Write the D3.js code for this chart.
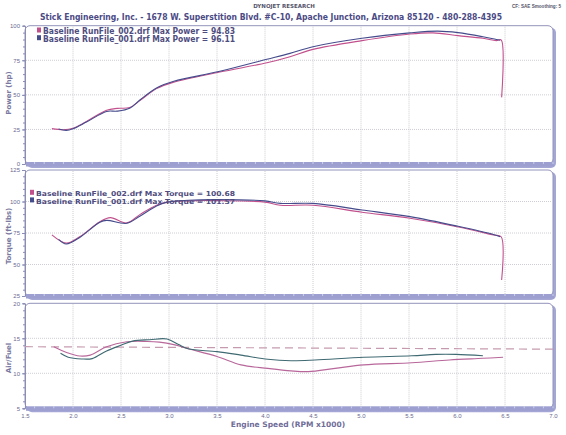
<!DOCTYPE html>
<html>
<head>
<meta charset="utf-8">
<script src="https://cdn.jsdelivr.net/npm/d3@7"></script>
<style>
  body { margin: 0; background: #fff; }
  svg { display: block; font-family: "DejaVu Sans", Verdana, sans-serif; }
  .tick text { fill: #6b6a90; font-size: 6px; }
  .axis path, .axis line { stroke: #8c8cb4; }
</style>
</head>
<body>
<script>
// ----- data -----
var rpmTicks = [1.5, 2.0, 2.5, 3.0, 3.5, 4.0, 4.5, 5.0, 5.5, 6.0, 6.5, 7.0];
var powerTicks = [0, 25, 50, 75, 100];
var torqueTicks = [25, 50, 75, 100, 125];
var afrTicks = [5, 10, 15, 20];

// run 002 (pink) and run 001 (blue), [rpm x1000, value]
var power002 = [[1.78, 25.6], [1.9, 24.8], [2.0, 25.8], [2.14, 30.8], [2.35, 38.8], [2.46, 40.2], [2.59, 40.8],
  [2.70, 46.0], [2.87, 54.5], [3.05, 59.2], [3.53, 66.5], [4.02, 73.2], [4.26, 77.6], [4.5, 82.9],
  [5.01, 89.2], [5.51, 94.0], [5.75, 94.8], [6.01, 92.8], [6.27, 90.9], [6.41, 89.2], [6.46, 89.7], [6.465, 48.2]];
var power001 = [[1.85, 25.3], [1.93, 24.3], [2.0, 25.5], [2.14, 30.3], [2.35, 38.0], [2.46, 38.2], [2.59, 40.3],
  [2.70, 46.5], [2.87, 55.0], [3.05, 59.8], [3.53, 67.0], [4.02, 75.7], [4.26, 80.0], [4.5, 84.8],
  [5.01, 90.9], [5.51, 94.8], [5.8, 96.1], [6.01, 95.0], [6.27, 92.0], [6.41, 90.0], [6.45, 89.5]];

var torque002 = [[1.78, 73.5], [1.93, 67.0], [2.07, 72.0], [2.28, 84.0], [2.39, 87.2], [2.56, 83.0], [2.70, 89.8],
  [2.87, 97.0], [2.98, 99.5], [3.2, 100.5], [3.5, 100.7], [4.0, 99.5], [4.16, 97.0], [4.5, 97.0],
  [5.01, 91.5], [5.51, 86.7], [6.0, 80.0], [6.38, 73.4], [6.46, 72.0], [6.465, 37.7]];
var torque001 = [[1.85, 70.0], [1.93, 66.3], [2.07, 71.5], [2.28, 83.5], [2.35, 85.0], [2.56, 82.7], [2.70, 88.5],
  [2.87, 96.5], [2.98, 99.5], [3.2, 101.0], [3.5, 101.5], [4.0, 100.5], [4.16, 98.5], [4.5, 98.5],
  [5.01, 93.3], [5.51, 88.0], [6.0, 80.5], [6.38, 73.8], [6.45, 72.0]];

var afr002 = [[1.8, 13.8], [1.94, 12.95], [2.07, 12.47], [2.18, 12.6], [2.35, 13.8], [2.56, 14.5], [2.77, 14.55],
  [2.9, 14.45], [3.05, 14.1], [3.19, 13.55], [3.5, 12.4], [3.75, 11.2], [4.03, 10.7], [4.27, 10.35],
  [4.45, 10.24], [4.73, 10.7], [5.03, 11.2], [5.53, 11.5], [5.92, 11.9], [6.27, 12.14], [6.48, 12.3]];
var afr001 = [[1.87, 12.86], [1.95, 12.3], [2.09, 12.05], [2.2, 12.1], [2.35, 13.2], [2.5, 14.0], [2.62, 14.6],
  [2.8, 14.8], [2.98, 14.9], [3.1, 14.1], [3.2, 13.5], [3.5, 13.1], [3.75, 12.6], [4.03, 12.0],
  [4.27, 11.8], [4.52, 11.9], [5.03, 12.3], [5.53, 12.5], [5.78, 12.7], [5.99, 12.7], [6.27, 12.5]];
var afrTarget = [[1.5, 13.8], [7.0, 13.45]];

var powerLegend = ["Baseline RunFile_002.drf Max Power = 94.83", "Baseline RunFile_001.drf Max Power = 96.11"];
var torqueLegend = ["Baseline RunFile_002.drf Max Torque = 100.68", "Baseline RunFile_001.drf Max Torque = 101.57"];

var pink = "#c2508c";
var blue = "#454c8c";
var teal = "#3f6a72";

var w = 566, h = 435;
var svg = d3.select("body").append("svg").attr("width", w).attr("height", h);

var x = d3.scaleLinear().domain([1.5, 7.0]).range([25, 553]);
var minorRpm = d3.range(15, 71).map(function(d) { return d / 10; });

// header
svg.append("text").attr("x", 284).attr("y", 7.5).attr("text-anchor", "middle")
  .style("font-size", "5.5px").style("font-weight", "bold").style("fill", "#55556a")
  .text("DYNOJET RESEARCH");
svg.append("text").attr("x", 512).attr("y", 7.5)
  .style("font-family", "'Liberation Sans', Arial, sans-serif")
  .style("font-size", "4.6px").style("font-weight", "bold").style("fill", "#55556a")
  .text("CF: SAE  Smoothing: 5");
svg.append("text").attr("x", 40).attr("y", 19.5)
  .attr("textLength", 462).attr("lengthAdjust", "spacingAndGlyphs")
  .style("font-size", "8.5px").style("font-weight", "bold").style("fill", "#4b4a85")
  .text("Stick Engineering, Inc. - 1678 W. Superstition Blvd. #C-10, Apache Junction, Arizona 85120 - 480-288-4395");

function panel(y, ticks, minorStep, title, titleY) {
  var top = y.range()[1], bot = y.range()[0];
  var g = svg.append("g");

  // frame with shadow
  g.append("rect").attr("x", x(1.5) + 2).attr("y", top + 2).attr("width", x(7) - x(1.5) + 1)
    .attr("height", bot - top + 2).attr("rx", 5).style("fill", "#a4a7d4");
  g.append("rect").attr("x", x(1.5)).attr("y", top).attr("width", x(7) - x(1.5))
    .attr("height", bot - top).attr("rx", 5).style("fill", "#fff").style("stroke", "#9394bb").style("stroke-width", 1);

  // grid
  g.selectAll(".vg").data(rpmTicks.slice(1, -1)).enter().append("line")
    .attr("x1", function(d) { return x(d); }).attr("x2", function(d) { return x(d); })
    .attr("y1", top + 1).attr("y2", bot - 1)
    .style("stroke", "#cdcdd6").style("stroke-dasharray", "1,1");
  g.selectAll(".hg").data(ticks.slice(1, -1)).enter().append("line")
    .attr("x1", x(1.5) + 1).attr("x2", x(7) - 1)
    .attr("y1", function(d) { return y(d); }).attr("y2", function(d) { return y(d); })
    .style("stroke", "#cdcdd6").style("stroke-dasharray", "1,1");

  // bottom band with rpm minor ticks
  g.append("rect").attr("x", x(1.5) + 1).attr("y", bot - 2).attr("width", x(7) - x(1.5))
    .attr("height", 4.5).style("fill", "#9c9fd0");
  g.selectAll(".mt").data(minorRpm).enter().append("line")
    .attr("x1", function(d) { return x(d); }).attr("x2", function(d) { return x(d); })
    .attr("y1", bot - 2).attr("y2", bot)
    .style("stroke", "#dcdcf0").style("stroke-width", 0.8);

  // left axis
  var minor = d3.range(y.domain()[0], y.domain()[1] + 0.001, minorStep);
  g.append("g").attr("class", "axis").attr("transform", "translate(" + x(1.5) + ",0)")
    .call(d3.axisLeft(y).tickValues(minor).tickSize(2).tickFormat(""));
  g.append("g").attr("class", "axis").attr("transform", "translate(" + x(1.5) + ",0)")
    .call(d3.axisLeft(y).tickValues(ticks).tickSize(3).tickPadding(2))
    .call(function(a) { a.select(".domain").remove(); });

  svg.append("text").attr("transform", "translate(9," + titleY + ") rotate(-90)")
    .attr("text-anchor", "middle").attr("dy", "0.35em")
    .style("font-size", "7px").style("font-weight", "bold").style("fill", "#7a78a0")
    .text(title);
  return g;
}

function drawLine(g, y, data, color, width) {
  var line = d3.line()
    .x(function(d) { return x(d[0]); })
    .y(function(d) { return y(d[1]); })
    .curve(d3.curveCatmullRom.alpha(0.5));
  g.append("path").datum(data).attr("d", line)
    .style("fill", "none").style("stroke", color).style("stroke-width", width || 1.1);
}

function legend(g, items, lx, ly, gap, len, fs) {
  items.forEach(function(t, i) {
    g.append("rect").attr("x", lx - 6).attr("y", ly + i * gap - 6.5).attr("width", 4).attr("height", 5)
      .style("fill", i === 0 ? pink : blue);
    g.append("text").attr("x", lx).attr("y", ly + i * gap)
      .attr("textLength", len).attr("lengthAdjust", "spacingAndGlyphs")
      .style("font-size", fs + "px").style("font-weight", "bold").style("fill", "#4f4d80")
      .text(t);
  });
}

// power
var yP = d3.scaleLinear().domain([0, 100]).range([164, 25.7]);
var gP = panel(yP, powerTicks, 5, "Power (hp)", 93);
drawLine(gP, yP, power002, pink);
drawLine(gP, yP, power001, blue);
legend(gP, powerLegend, 43, 34, 7.7, 192, 8);

// torque
var yT = d3.scaleLinear().domain([25, 125]).range([296, 170]);
var gT = panel(yT, torqueTicks, 5, "Torque (ft-lbs)", 236);
drawLine(gT, yT, torque002, pink);
drawLine(gT, yT, torque001, blue);
legend(gT, torqueLegend, 36, 196.3, 7.6, 199, 6.8);

// air / fuel
var yA = d3.scaleLinear().domain([5, 20]).range([408.3, 303.3]);
var gA = panel(yA, afrTicks, 1, "Air/Fuel", 358);
gA.append("path").datum(afrTarget)
  .attr("d", d3.line().x(function(d) { return x(d[0]); }).y(function(d) { return yA(d[1]); }))
  .style("fill", "none").style("stroke", "#c69aae").style("stroke-width", 1.2).style("stroke-dasharray", "8,5");
drawLine(gA, yA, afr002, "#b8679a");
drawLine(gA, yA, afr001, teal);

// x axis
svg.append("g").attr("class", "axis").attr("transform", "translate(0," + 408.3 + ")")
  .call(d3.axisBottom(x).tickValues(rpmTicks).tickSize(0).tickPadding(5).tickFormat(d3.format(".1f")))
  .call(function(a) { a.select(".domain").remove(); });

svg.append("text").attr("x", 288).attr("y", 426.5).attr("text-anchor", "middle")
  .style("font-size", "7.5px").style("font-weight", "bold").style("fill", "#6f6d98")
  .text("Engine Speed (RPM x1000)");
</script>
</body>
</html>
